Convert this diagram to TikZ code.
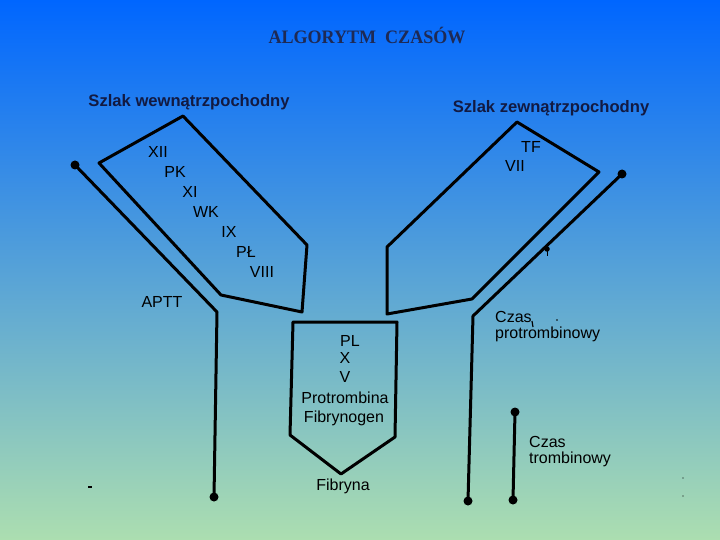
\documentclass[tikz,border=0pt]{standalone}
\usepackage{fontspec}
\setmainfont{Liberation Sans}
\newfontfamily\titlefont{Liberation Serif}
\definecolor{topc}{RGB}{0,102,255}
\definecolor{midc}{RGB}{112,166,226}
\definecolor{botc}{RGB}{172,222,176}
\definecolor{navy}{RGB}{18,26,66}
\definecolor{ttl}{RGB}{30,42,85}
\begin{document}
\begin{tikzpicture}[x=1pt,y=-1pt,
  ln/.style={line width=3pt, black, line join=round, line cap=round},
  dotn/.style={circle, fill=black, inner sep=0pt, minimum size=9pt},
  lbl/.style={font=\fontsize{16}{16}\selectfont, inner sep=0pt, text=black},
  hdr/.style={font=\bfseries\fontsize{16.6}{16.6}\selectfont, text=navy, inner sep=0pt}]
\useasboundingbox (0,0) rectangle (720,540);
\shade[top color=topc, middle color=midc, bottom color=botc] (0,0) rectangle (720,540);

% title
\node[inner sep=0pt, text=ttl] (title) at (367,35) {\scalebox{0.95}[1]{\titlefont\bfseries\fontsize{19}{19}\selectfont ALGORYTM\ \ CZASÓW}};

% headers
\node[hdr] (hw) at (189,102) {Szlak wewnątrzpochodny};
\node[hdr] (hz) at (551,108) {Szlak zewnątrzpochodny};

% left (intrinsic) polygon
\coordinate (L1) at (99,163);
\coordinate (L2) at (183,116);
\coordinate (L3) at (307,245);
\coordinate (L4) at (302,312);
\coordinate (L5) at (221,295);
\draw[ln] (L1) -- (L2) -- (L3) -- (L4) -- (L5) -- cycle;

% right (extrinsic) polygon
\coordinate (R1) at (387,247);
\coordinate (R2) at (517,122);
\coordinate (R3) at (599,172);
\coordinate (R4) at (472,299);
\coordinate (R5) at (387,314);
\draw[ln] (R1) -- (R2) -- (R3) -- (R4) -- (R5) -- cycle;

% middle pentagon
\coordinate (M1) at (293,322);
\coordinate (M2) at (397,322);
\coordinate (M3) at (395,437);
\coordinate (M4) at (341,474);
\coordinate (M5) at (290,435);
\draw[ln] (M1) -- (M2) -- (M3) -- (M4) -- (M5) -- cycle;

% APTT line
\node[dotn] (dA) at (75,165) {};
\coordinate (kA) at (217,312);
\node[dotn] (dB) at (214,497) {};
\draw[ln] (dA.center) -- (kA) -- (dB.center);

% PT line
\node[dotn] (dC) at (622,174) {};
\coordinate (kC) at (473,316);
\node[dotn] (dD) at (468,501) {};
\draw[ln] (dC.center) -- (kC) -- (dD.center);
\node[circle, fill=black, inner sep=0pt, minimum size=5.5pt] (blob) at (547,249) {};
\draw[line width=0.8pt] (blob.center) -- ++(0,7);

% TT line
\node[dotn] (dE) at (515,412) {};
\node[dotn] (dF) at (513,500) {};
\draw[ln] (dE.center) -- (dF.center);

% intrinsic labels
\node[lbl] (xii) at (158,152) {XII};
\node[lbl] (pk) at (175,172) {PK};
\node[lbl] (xi) at (190,192) {XI};
\node[lbl] (wk) at (206,212) {WK};
\node[lbl] (ix) at (229,232) {IX};
\node[lbl] (pl1) at (246,252) {PŁ};
\node[lbl] (viii) at (262,272) {VIII};

% extrinsic labels
\node[lbl] (tf) at (531,147) {TF};
\node[lbl] (vii) at (515,166) {VII};

\node[lbl] (aptt) at (162,302) {APTT};

% middle labels
\node[lbl] (pl2) at (350,341) {PL};
\node[lbl] (x) at (345,358) {X};
\node[lbl] (v) at (345,377) {V};
\node[lbl] (prot) at (345,398) {Protrombina};
\node[lbl] (fibg) at (344,418) {Fibrynogen};
\node[lbl] (fib) at (343,486) {Fibryna};

% time labels
\node[lbl, anchor=north west, align=left] (pt) at (495,311) {Czas\\protrombinowy};
\draw[line width=1.2pt] (532,321) -- (533,327);
\fill (557,320) circle (0.8);
\node[lbl, anchor=north west, align=left] (tt) at (529,436) {Czas\\trombinowy};

% scan specks
\fill (88,486) rectangle (92,488);
\fill (683,478) circle (0.6);
\fill (683,496) circle (0.7);
\end{tikzpicture}
\end{document}
